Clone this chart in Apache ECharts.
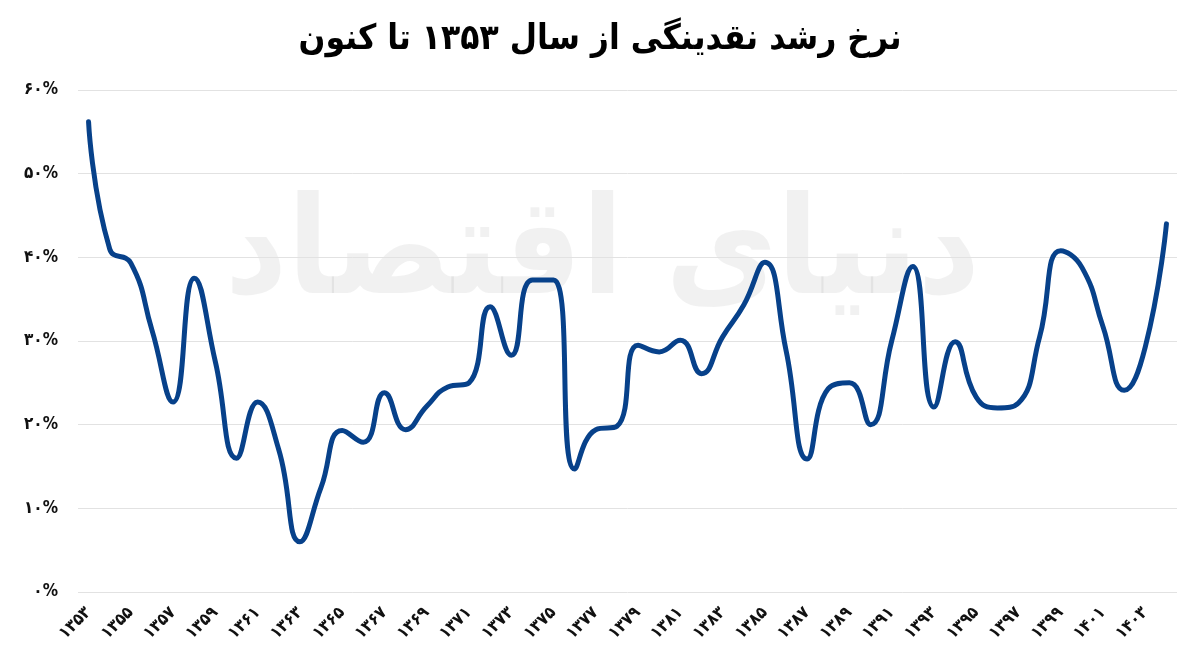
<!DOCTYPE html>
<html>
<head>
<meta charset="utf-8">
<script src="https://cdn.jsdelivr.net/npm/echarts@6/dist/echarts.min.js"></script>
<style>
html,body{margin:0;padding:0;background:#fff;}
#chart{width:1200px;height:669px;}
</style>
</head>
<body>
<div id="chart"></div>
<script>
const titleText = 'نرخ رشد نقدینگی از سال ۱۳۵۳ تا کنون';
const watermarkText = 'دنیای اقتصاد';
const years = ['۱۳۵۳','۱۳۵۴','۱۳۵۵','۱۳۵۶','۱۳۵۷','۱۳۵۸','۱۳۵۹','۱۳۶۰','۱۳۶۱','۱۳۶۲',
  '۱۳۶۳','۱۳۶۴','۱۳۶۵','۱۳۶۶','۱۳۶۷','۱۳۶۸','۱۳۶۹','۱۳۷۰','۱۳۷۱','۱۳۷۲',
  '۱۳۷۳','۱۳۷۴','۱۳۷۵','۱۳۷۶','۱۳۷۷','۱۳۷۸','۱۳۷۹','۱۳۸۰','۱۳۸۱','۱۳۸۲',
  '۱۳۸۳','۱۳۸۴','۱۳۸۵','۱۳۸۶','۱۳۸۷','۱۳۸۸','۱۳۸۹','۱۳۹۰','۱۳۹۱','۱۳۹۲',
  '۱۳۹۳','۱۳۹۴','۱۳۹۵','۱۳۹۶','۱۳۹۷','۱۳۹۸','۱۳۹۹','۱۴۰۰','۱۴۰۱','۱۴۰۲',
  '۱۴۰۳','۱۴۰۴'];
const growthRate = [56.2, 41.0, 39.3, 31.3, 22.7, 37.5, 27.5, 16.0, 22.7, 17.0,
  6.0, 12.5, 19.3, 17.9, 23.8, 19.4, 22.2, 24.5, 25.0, 34.1,
  28.3, 37.3, 37.3, 14.7, 19.4, 19.8, 29.5, 28.7, 30.1, 26.1,
  30.5, 34.3, 39.4, 28.9, 15.9, 24.3, 25.0, 20.0, 30.0, 38.9,
  22.1, 29.9, 23.3, 22.0, 22.6, 30.5, 40.8, 38.8, 31.7, 24.1,
  29.3, 44.0];
const yTickLabels = ['۰%','۱۰%','۲۰%','۳۰%','۴۰%','۵۰%','۶۰%'];

const chart = echarts.init(document.getElementById('chart'));
chart.setOption({
  backgroundColor: '#ffffff',
  animation: false,
  title: {
    text: titleText,
    left: 'center',
    top: 17,
    textStyle: {fontFamily: 'DejaVu Sans Condensed', fontWeight: 'bold', fontSize: 35, color: '#000'}
  },
  graphic: [{
    type: 'text',
    left: 225,
    top: 190,
    z: -10,
    silent: true,
    style: {
      text: watermarkText,
      font: 'bold 135px "DejaVu Sans Condensed"',
      fill: 'rgba(0,0,0,0.055)'
    }
  }],
  grid: {left: 78, right: 23, top: 90, bottom: 77, containLabel: false},
  xAxis: {
    type: 'category',
    data: years,
    boundaryGap: true,
    axisLine: {show: false},
    axisTick: {show: false},
    axisLabel: {
      interval: 1,
      rotate: 45,
      margin: 18,
      fontFamily: 'DejaVu Sans Condensed',
      fontWeight: 'bold',
      fontSize: 17,
      color: '#111'
    }
  },
  yAxis: {
    type: 'value',
    min: 0,
    max: 60,
    interval: 10,
    axisLine: {show: false},
    axisTick: {show: false},
    splitLine: {lineStyle: {color: '#e2e2e2', width: 1}},
    axisLabel: {
      margin: 20,
      fontFamily: 'DejaVu Sans Condensed',
      fontWeight: 'bold',
      fontSize: 17,
      color: '#111',
      formatter: (v, i) => yTickLabels[Math.round(v / 10)]
    }
  },
  series: [{
    type: 'line',
    data: growthRate,
    smooth: 0.5,
    showSymbol: false,
    lineStyle: {color: '#07418a', width: 5, cap: 'round', join: 'round'}
  }]
});
</script>
</body>
</html>
